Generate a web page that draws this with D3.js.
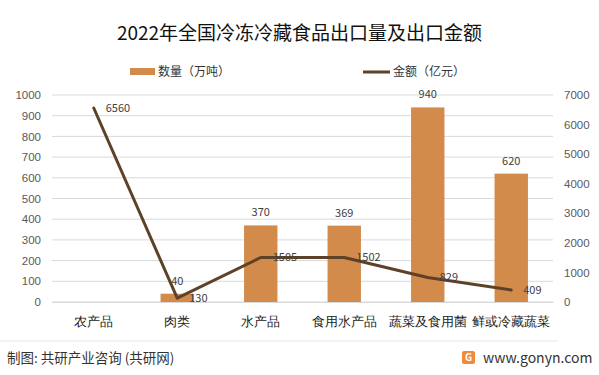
<!DOCTYPE html>
<html>
<head>
<meta charset="utf-8">
<script src="https://cdn.jsdelivr.net/npm/d3@7/dist/d3.min.js"></script>
<style>
  body { margin: 0; background: #fff; }
  svg { font-family: "Noto Sans CJK SC", "Noto Sans", sans-serif; }
</style>
</head>
<body>
<div id="chart"></div>
<script>
// chart data
var categories = ["农产品", "肉类", "水产品", "食用水产品", "蔬菜及食用菌", "鲜或冷藏蔬菜"];
var volume = [null, 40, 370, 369, 940, 620];     // 数量（万吨）
var amount = [6560, 130, 1505, 1502, 829, 409];  // 金额（亿元）
var leftTicks = [0, 100, 200, 300, 400, 500, 600, 700, 800, 900, 1000];
var rightTicks = [0, 1000, 2000, 3000, 4000, 5000, 6000, 7000];

var svgWidth = 599;
var svgHeight = 375;

var margin = { top: 95, right: 46, bottom: 73, left: 52 };
var chartWidth = svgWidth - margin.left - margin.right;
var chartHeight = svgHeight - margin.top - margin.bottom;

var barColor = "#d38b4b";
var lineColor = "#5e4129";

var svg = d3.select("#chart")
  .append("svg")
  .attr("width", svgWidth)
  .attr("height", svgHeight);

var chartGroup = svg.append("g")
  .attr("transform", `translate(${margin.left}, ${margin.top})`);

// scales
var xScale = d3.scaleBand()
  .domain(categories)
  .range([0, chartWidth])
  .paddingInner(0.6)
  .paddingOuter(0.3);

var yLeft = d3.scaleLinear().domain([0, 1000]).range([chartHeight, 0]);
var yRight = d3.scaleLinear().domain([0, 7000]).range([chartHeight, 0]);

// gridlines
chartGroup.append("g")
  .selectAll("line")
  .data(leftTicks)
  .enter()
  .append("line")
  .attr("x1", 0)
  .attr("x2", chartWidth)
  .attr("y1", d => yLeft(d))
  .attr("y2", d => yLeft(d))
  .attr("stroke", "#d9d9d9")
  .attr("stroke-width", 1);

// left axis
var leftAxis = d3.axisLeft(yLeft).tickValues(leftTicks).tickFormat(d3.format("d"))
  .tickSize(0).tickPadding(11);
var gLeft = chartGroup.append("g").call(leftAxis);
gLeft.select(".domain").remove();
gLeft.selectAll("text")
  .attr("fill", "#595959")
  .style("font-size", "11.5px");

// right axis
var rightAxis = d3.axisRight(yRight).tickValues(rightTicks).tickFormat(d3.format("d"))
  .tickSize(0).tickPadding(11);
var gRight = chartGroup.append("g")
  .attr("transform", `translate(${chartWidth}, 0)`)
  .call(rightAxis);
gRight.select(".domain").remove();
gRight.selectAll("text")
  .attr("fill", "#595959")
  .style("font-size", "11.5px");

// bottom axis
var bottomAxis = d3.axisBottom(xScale).tickSize(0).tickPadding(15);
var gBottom = chartGroup.append("g")
  .attr("transform", `translate(0, ${chartHeight})`)
  .call(bottomAxis);
gBottom.select(".domain").attr("stroke", "#d9d9d9");
gBottom.selectAll("text")
  .attr("fill", "#222")
  .style("font-size", "13px");

// bars
var barData = categories.map((c, i) => ({ cat: c, v: volume[i] })).filter(d => d.v !== null);

chartGroup.selectAll(".bar")
  .data(barData)
  .enter()
  .append("rect")
  .attr("class", "bar")
  .attr("x", d => xScale(d.cat))
  .attr("width", xScale.bandwidth())
  .attr("y", d => yLeft(d.v))
  .attr("height", d => chartHeight - yLeft(d.v))
  .attr("fill", barColor);

chartGroup.selectAll(".barLabel")
  .data(barData)
  .enter()
  .append("text")
  .attr("class", "barLabel")
  .attr("x", d => xScale(d.cat) + xScale.bandwidth() / 2)
  .attr("y", d => yLeft(d.v) - 9)
  .attr("text-anchor", "middle")
  .attr("fill", "#404040")
  .style("font-size", "11px")
  .text(d => d.v);

// line
var lineData = categories.map((c, i) => ({ cat: c, v: amount[i] }));
var cx = d => xScale(d.cat) + xScale.bandwidth() / 2;

var line = d3.line()
  .x(cx)
  .y(d => yRight(d.v));

chartGroup.append("path")
  .datum(lineData)
  .attr("d", line)
  .attr("fill", "none")
  .attr("stroke", lineColor)
  .attr("stroke-width", 3)
  .attr("stroke-linejoin", "round")
  .attr("stroke-linecap", "round");

chartGroup.selectAll(".lineLabel")
  .data(lineData)
  .enter()
  .append("text")
  .attr("class", "lineLabel")
  .attr("x", d => cx(d) + 12)
  .attr("y", d => yRight(d.v))
  .attr("dy", "0.35em")
  .attr("fill", "#404040")
  .style("font-size", "11px")
  .text(d => d.v);

// title
svg.append("text")
  .attr("x", svgWidth / 2)
  .attr("y", 40)
  .attr("text-anchor", "middle")
  .attr("fill", "#111")
  .style("font-size", "19px")
  .text("2022年全国冷冻冷藏食品出口量及出口金额");

// legend
var legend = svg.append("g");
legend.append("rect")
  .attr("x", 130).attr("y", 68).attr("width", 25).attr("height", 7)
  .attr("fill", barColor);
legend.append("text")
  .attr("x", 158).attr("y", 72).attr("dy", "0.35em")
  .attr("fill", "#333").style("font-size", "12px")
  .text("数量（万吨）");
legend.append("line")
  .attr("x1", 363).attr("x2", 390).attr("y1", 72).attr("y2", 72)
  .attr("stroke", lineColor).attr("stroke-width", 3);
legend.append("text")
  .attr("x", 393).attr("y", 72).attr("dy", "0.35em")
  .attr("fill", "#333").style("font-size", "12px")
  .text("金额（亿元）");

// footer
svg.append("line")
  .attr("x1", 0).attr("x2", 558).attr("y1", 341).attr("y2", 341)
  .attr("stroke", "#e6e6e6");
svg.append("text")
  .attr("x", 7).attr("y", 358).attr("dy", "0.35em")
  .attr("fill", "#333").style("font-size", "13.5px")
  .text("制图: 共研产业咨询 (共研网)");

var logo = svg.append("g").attr("transform", "translate(462, 351)");
logo.append("rect")
  .attr("width", 13).attr("height", 13).attr("rx", 2)
  .attr("fill", "#f08a3c");
logo.append("text")
  .attr("x", 6.5).attr("y", 6.5).attr("dy", "0.35em")
  .attr("text-anchor", "middle")
  .attr("fill", "#fff").style("font-size", "10px").style("font-weight", "bold")
  .text("G");
svg.append("text")
  .attr("x", 483).attr("y", 358).attr("dy", "0.35em")
  .attr("fill", "#333").style("font-size", "14px")
  .text("www.gonyn.com");
</script>
</body>
</html>
